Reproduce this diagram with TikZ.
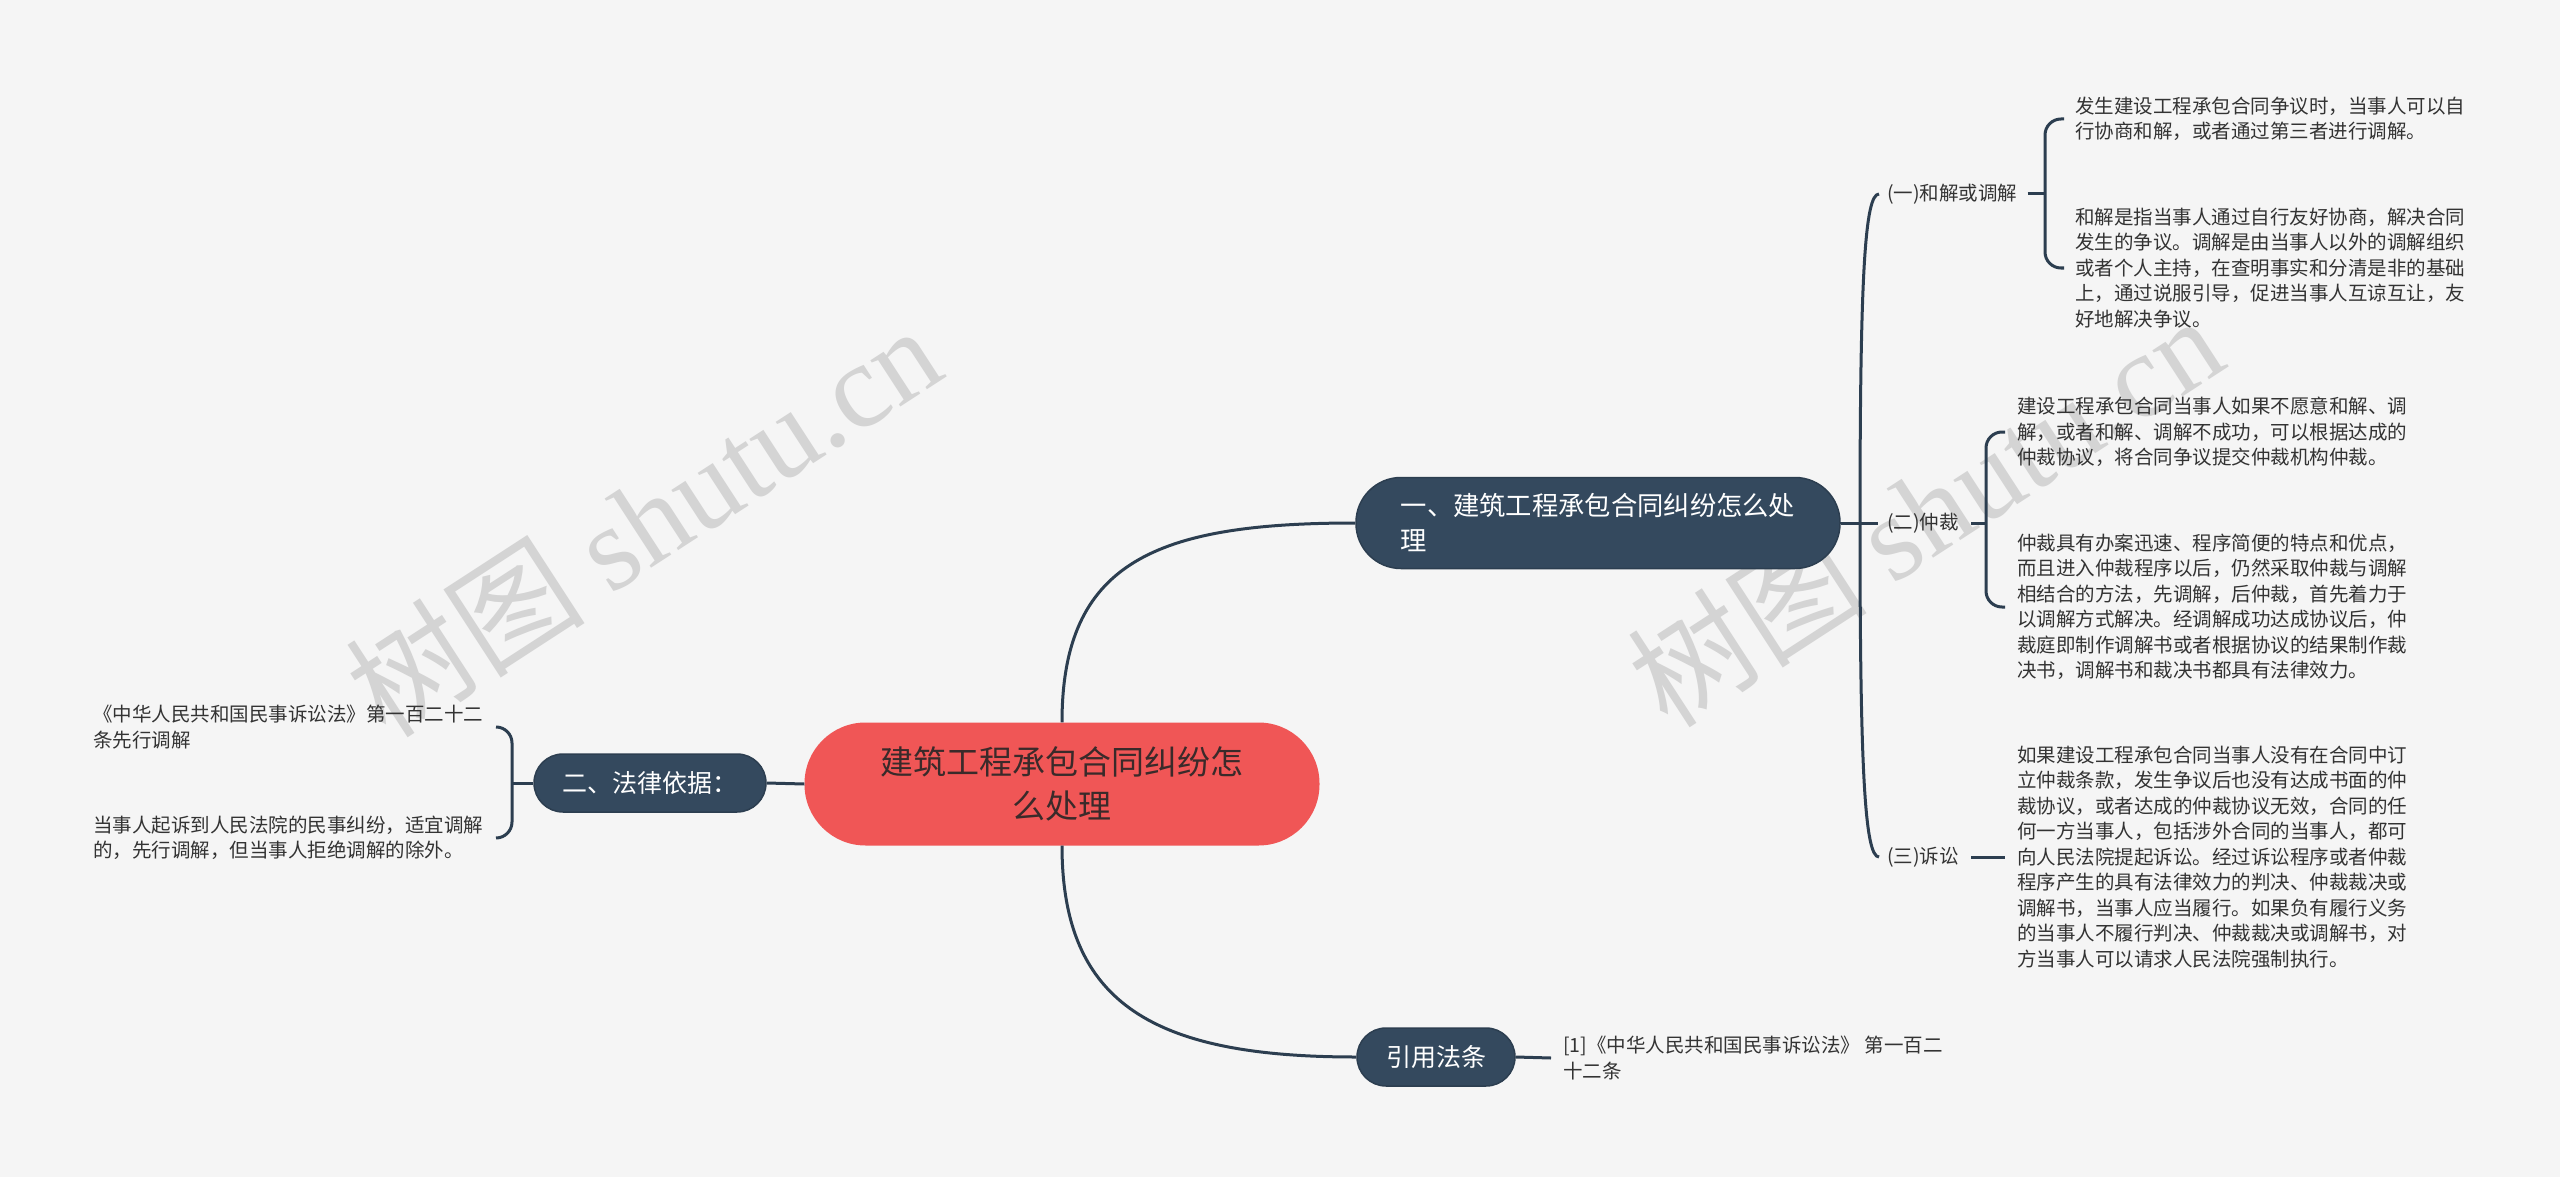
\documentclass[tikz,border=0pt]{standalone}
\usepackage{fontspec}
\setmainfont{Noto Sans CJK SC}
\newfontfamily\wmfont{Liberation Serif}
\usetikzlibrary{calc}
\definecolor{bg}{HTML}{F5F5F5}
\definecolor{navy}{HTML}{34495E}
\definecolor{navyline}{HTML}{2C3E50}
\definecolor{coral}{HTML}{F05656}
\definecolor{roottext}{HTML}{3A2A2A}
\definecolor{leaf}{HTML}{333333}
\definecolor{wm}{HTML}{D4D4D4}
\begin{document}
\begin{tikzpicture}[x=1pt,y=-1pt,
  conn/.style={draw=navyline, line width=3pt},
  rootnode/.style={fill=coral, rounded corners=61pt, minimum width=515pt, minimum height=123pt, align=center, text=roottext, font=\fontsize{33}{44}\selectfont, inner sep=0pt},
  topic/.style={fill=navy, draw=navyline, line width=1.5pt, text=white, inner sep=0pt},
  sublabel/.style={anchor=west, inner sep=0pt, text=leaf, font=\fontsize{19.5}{25.5}\selectfont},
  leaftext/.style={anchor=west, inner sep=0pt, align=left, text=leaf, font=\fontsize{19.5}{25.5}\selectfont},
  wmark/.style={rotate=33, text=wm, inner sep=0pt, font=\fontsize{120}{125}\selectfont}
]
\fill[bg] (0,0) rectangle (2560,1177);
\useasboundingbox (0,0) rectangle (2560,1177);

% watermarks
\node[wmark] (wm1) at (643,520) {树图 {\wmfont shutu.cn}};
\node[wmark] (wm2) at (1925,510) {树图 {\wmfont shutu.cn}};

% main nodes
\node[rootnode] (root) at (1062,784) {建筑工程承包合同纠纷怎\\么处理};
\node[topic, rounded corners=45pt, minimum width=484pt, minimum height=91pt, align=left, font=\fontsize{26.3}{35}\selectfont] (n1) at (1598,523) {一、建筑工程承包合同纠纷怎么处\\理};
\node[topic, rounded corners=29pt, minimum width=232pt, minimum height=58pt, font=\fontsize{25}{30}\selectfont] (n2) at (650,783) {二、法律依据：};
\node[topic, rounded corners=29pt, minimum width=158pt, minimum height=58pt, font=\fontsize{25}{30}\selectfont] (n3) at (1436,1057) {引用法条};

% sub labels
\node[sublabel] (l1) at (1887,194) {(一)和解或调解};
\node[sublabel] (l2) at (1887,523) {(二)仲裁};
\node[sublabel] (l3) at (1887,857) {(三)诉讼};

% leaves
\node[leaftext] (a1) at (2075,119) {发生建设工程承包合同争议时，当事人可以自\\行协商和解，或者通过第三者进行调解。};
\node[leaftext] (a2) at (2075,268) {和解是指当事人通过自行友好协商，解决合同\\发生的争议。调解是由当事人以外的调解组织\\或者个人主持，在查明事实和分清是非的基础\\上，通过说服引导，促进当事人互谅互让，友\\好地解决争议。};
\node[leaftext] (b1) at (2017,432) {建设工程承包合同当事人如果不愿意和解、调\\解，或者和解、调解不成功，可以根据达成的\\仲裁协议，将合同争议提交仲裁机构仲裁。};
\node[leaftext] (b2) at (2017,607) {仲裁具有办案迅速、程序简便的特点和优点，\\而且进入仲裁程序以后，仍然采取仲裁与调解\\相结合的方法，先调解，后仲裁，首先着力于\\以调解方式解决。经调解成功达成协议后，仲\\裁庭即制作调解书或者根据协议的结果制作裁\\决书，调解书和裁决书都具有法律效力。};
\node[leaftext] (c1) at (2017,857) {如果建设工程承包合同当事人没有在合同中订\\立仲裁条款，发生争议后也没有达成书面的仲\\裁协议，或者达成的仲裁协议无效，合同的任\\何一方当事人，包括涉外合同的当事人，都可\\向人民法院提起诉讼。经过诉讼程序或者仲裁\\程序产生的具有法律效力的判决、仲裁裁决或\\调解书，当事人应当履行。如果负有履行义务\\的当事人不履行判决、仲裁裁决或调解书，对\\方当事人可以请求人民法院强制执行。};
\node[leaftext] (d1) at (93,727) {《中华人民共和国民事诉讼法》第一百二十二\\条先行调解};
\node[leaftext] (d2) at (93,838) {当事人起诉到人民法院的民事纠纷，适宜调解\\的，先行调解，但当事人拒绝调解的除外。};
\node[leaftext] (e1) at (1563,1058) {[1]《中华人民共和国民事诉讼法》 第一百二\\十二条};

% coordinates
\coordinate (sp) at (1860,523);
\coordinate (k1) at (2045,194);
\coordinate (k2) at (1986,523);
\coordinate (lb) at (512,783);

% connectors from root
\draw[conn] (root.north) .. controls +(0,-160) and +(-200,0) .. (n1.west);
\draw[conn] (root.south) .. controls +(0,160) and +(-200,0) .. (n3.west);
\draw[conn] (root.west) -- (n2.east);

% right spine
\draw[conn] (n1.east) -- ($(l2.west)+(-9,0)$);
\draw[conn] (sp) .. controls +(0,-250) and +(-14,0) .. ($(l1.west)+(-8,0)$);
\draw[conn] (sp) .. controls +(0,250) and +(-14,0) .. ($(l3.west)+(-8,0)$);

% (一) bracket
\draw[conn] ($(l1.east)+(10,0)$) -- (k1);
\draw[conn, rounded corners=16pt] ($(a1.west)+(-11,0)$) -| (k1) |- ($(a2.west)+(-11,0)$);
% (二) bracket
\draw[conn] ($(l2.east)+(12,0)$) -- (k2);
\draw[conn, rounded corners=16pt] ($(b1.west)+(-12,0)$) -| (k2) |- ($(b2.west)+(-12,0)$);
% (三)
\draw[conn] ($(l3.east)+(12,0)$) -- ($(c1.west)+(-12,0)$);

% left bracket
\draw[conn] (n2.west) -- (lb);
\draw[conn, rounded corners=16pt] ($(d1.west)+(403,0)$) -| (lb) |- ($(d2.west)+(403,0)$);

% citation
\draw[conn] (n3.east) -- ($(e1.west)+(-12,0)$);
\end{tikzpicture}
\end{document}
